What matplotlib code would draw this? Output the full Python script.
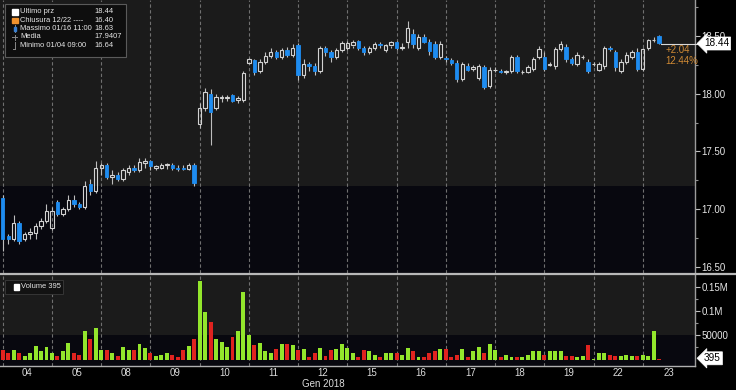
import matplotlib
matplotlib.use('Agg')
import matplotlib.pyplot as plt
from matplotlib.patches import Rectangle
from matplotlib.lines import Line2D
from matplotlib.ticker import FixedLocator, FuncFormatter
from matplotlib import font_manager

plt.rcParams['font.family'] = ['Liberation Sans', 'DejaVu Sans']
_names = {f.name for f in font_manager.fontManager.ttflist}
NARROW = 'Liberation Sans Narrow' in _names
LEG_FAMILY = ['Liberation Sans Narrow', 'Liberation Sans'] if NARROW else ['Liberation Sans', 'DejaVu Sans']
LEG_SIZE = 6.3 if NARROW else 5.4

# ---------------- data ----------------
day_labels = ['04', '05', '08', '09', '10', '11', '12', '15', '16', '17', '18', '19', '22', '23']
bars_per_day = 9
month_label = 'Gen 2018'

opens = [17.10, 16.77, 16.74, 16.88, 16.74, 16.78, 16.79, 16.85, 16.90,
         16.84, 17.06, 16.96, 17.00, 17.08, 17.04, 17.02, 17.22, 17.16,
         17.36, 17.38, 17.28, 17.30, 17.26, 17.32, 17.36, 17.34, 17.40,
         17.42, 17.36, 17.36, 17.38, 17.38, 17.36, 17.36, 17.35, 17.38,
         17.74, 17.88, 18.00, 17.88, 17.96, 17.96, 17.99, 17.95, 17.95,
         18.27, 18.29, 18.20, 18.28, 18.33, 18.36, 18.32, 18.38, 18.34,
         18.42, 18.16, 18.26, 18.24, 18.20, 18.40, 18.36, 18.32, 18.38,
         18.40, 18.42, 18.46, 18.40, 18.36, 18.40, 18.43, 18.38, 18.42,
         18.45, 18.40, 18.45, 18.52, 18.40, 18.49, 18.45, 18.43, 18.32,
         18.31, 18.29, 18.27, 18.13, 18.24, 18.22, 18.14, 18.23, 18.07,
         18.21, 18.20, 18.19, 18.20, 18.32, 18.19, 18.19, 18.22, 18.32,
         18.32, 18.25, 18.24, 18.39, 18.41, 18.30, 18.26, 18.32, 18.28,
         18.26, 18.21, 18.24, 18.40, 18.36, 18.20, 18.28, 18.32, 18.36,
         18.22, 18.40, 18.47, 18.50]
highs = [17.12, 16.78, 16.95, 16.90, 16.80, 16.84, 16.88, 16.92, 17.04,
         17.02, 17.08, 17.02, 17.12, 17.12, 17.06, 17.24, 17.26, 17.42,
         17.40, 17.40, 17.34, 17.32, 17.36, 17.38, 17.38, 17.44, 17.44,
         17.43, 17.38, 17.40, 17.40, 17.40, 17.38, 17.38, 17.40, 17.40,
         17.92, 18.05, 18.04, 18.00, 17.99, 17.99, 18.00, 17.98, 18.20,
         18.31, 18.30, 18.30, 18.36, 18.40, 18.38, 18.40, 18.41, 18.43,
         18.44, 18.30, 18.28, 18.27, 18.42, 18.42, 18.38, 18.40, 18.46,
         18.46, 18.47, 18.47, 18.42, 18.42, 18.45, 18.45, 18.43, 18.46,
         18.46, 18.44, 18.63, 18.56, 18.52, 18.52, 18.48, 18.46, 18.46,
         18.33, 18.31, 18.29, 18.28, 18.27, 18.25, 18.26, 18.25, 18.23,
         18.23, 18.22, 18.21, 18.34, 18.34, 18.21, 18.25, 18.32, 18.42,
         18.36, 18.28, 18.41, 18.46, 18.43, 18.32, 18.36, 18.34, 18.30,
         18.28, 18.28, 18.42, 18.42, 18.38, 18.30, 18.36, 18.38, 18.40,
         18.40, 18.48, 18.49, 18.51]
lows = [16.64, 16.70, 16.72, 16.70, 16.72, 16.74, 16.74, 16.83, 16.88,
        16.82, 16.94, 16.94, 16.98, 17.02, 17.00, 17.00, 17.12, 17.14,
        17.30, 17.26, 17.22, 17.24, 17.24, 17.30, 17.32, 17.32, 17.36,
        17.34, 17.34, 17.35, 17.35, 17.34, 17.33, 17.34, 17.34, 17.20,
        17.70, 17.85, 17.56, 17.86, 17.93, 17.94, 17.93, 17.92, 17.93,
        18.26, 18.16, 18.18, 18.26, 18.31, 18.30, 18.30, 18.32, 18.32,
        18.12, 18.14, 18.20, 18.16, 18.18, 18.33, 18.28, 18.30, 18.36,
        18.38, 18.40, 18.38, 18.34, 18.35, 18.38, 18.40, 18.36, 18.40,
        18.38, 18.38, 18.40, 18.40, 18.38, 18.44, 18.34, 18.30, 18.30,
        18.28, 18.25, 18.10, 18.11, 18.20, 18.20, 18.12, 18.04, 18.05,
        18.19, 18.18, 18.17, 18.18, 18.18, 18.17, 18.18, 18.20, 18.30,
        18.20, 18.24, 18.22, 18.37, 18.28, 18.25, 18.24, 18.30, 18.18,
        18.24, 18.20, 18.22, 18.37, 18.20, 18.18, 18.26, 18.30, 18.20,
        18.20, 18.38, 18.45, 18.43]
closes = [16.74, 16.74, 16.88, 16.72, 16.78, 16.80, 16.85, 16.90, 16.98,
          16.98, 16.96, 17.00, 17.08, 17.04, 17.02, 17.20, 17.16, 17.36,
          17.38, 17.28, 17.30, 17.26, 17.34, 17.36, 17.34, 17.41, 17.42,
          17.37, 17.37, 17.38, 17.39, 17.36, 17.35, 17.35, 17.38, 17.23,
          17.88, 18.02, 17.84, 17.97, 17.97, 17.97, 17.94, 17.96, 18.18,
          18.30, 18.19, 18.28, 18.33, 18.36, 18.32, 18.38, 18.34, 18.40,
          18.16, 18.26, 18.24, 18.20, 18.40, 18.36, 18.32, 18.38, 18.44,
          18.44, 18.45, 18.40, 18.36, 18.40, 18.43, 18.42, 18.42, 18.45,
          18.40, 18.41, 18.57, 18.43, 18.49, 18.45, 18.37, 18.32, 18.43,
          18.30, 18.27, 18.13, 18.26, 18.21, 18.23, 18.24, 18.06, 18.21,
          18.21, 18.19, 18.20, 18.32, 18.20, 18.19, 18.23, 18.30, 18.39,
          18.22, 18.26, 18.39, 18.43, 18.30, 18.27, 18.34, 18.32, 18.20,
          18.26, 18.26, 18.40, 18.39, 18.23, 18.28, 18.34, 18.36, 18.22,
          18.39, 18.47, 18.47, 18.44]
volumes = [19000, 14000, 19000, 14000, 8000, 13000, 28000, 17000, 26000,
           14000, 8000, 17000, 35000, 13000, 10000, 58000, 42000, 66000,
           19000, 19000, 13000, 8000, 26000, 19000, 19000, 33000, 24000,
           13000, 8000, 10000, 13000, 10000, 6000, 19000, 28000, 42000,
           163000, 99000, 77000, 42000, 37000, 26000, 46000, 58000, 140000,
           51000, 31000, 35000, 17000, 14000, 21000, 33000, 33000, 29000,
           19000, 21000, 5000, 13000, 23000, 8000, 19000, 21000, 33000,
           23000, 13000, 5000, 19000, 17000, 10000, 5000, 13000, 13000,
           13000, 10000, 23000, 17000, 6000, 5000, 13000, 17000, 21000,
           21000, 5000, 10000, 21000, 5000, 17000, 26000, 13000, 33000,
           19000, 6000, 10000, 5000, 5000, 5000, 10000, 17000, 17000,
           10000, 17000, 17000, 17000, 8000, 8000, 5000, 8000, 29000,
           2000, 13000, 13000, 10000, 8000, 8000, 10000, 8000, 8000,
           10000, 8000, 58000, 395]

last_price = 18.44
last_volume = 395
legend_rows = [('Ultimo prz', '18.44'), ('Chiusura 12/22 ----', '16.40'),
               ('Massimo 01/16 11:00', '18.63'), ('Media', '17.9407'),
               ('Minimo 01/04 09:00', '16.64')]
change_abs = '+2.04'
change_pct = '12.44%'

# ---------------- figure ----------------
W, H = 736, 390
fig = plt.figure(figsize=(W / 100, H / 100), dpi=100, facecolor='black')


def fx(px):
    return px / W


def fy(py):
    return 1 - py / H


P_TOP, P_BOT = 0, 273
V_TOP, V_BOT = 275, 366
RIGHT = 695
XMAX = 126.55

ax = fig.add_axes([0, fy(P_BOT), fx(RIGHT), (P_BOT - P_TOP) / H])
axv = fig.add_axes([0, fy(V_BOT), fx(RIGHT), (V_BOT - V_TOP) / H])

n = len(closes)
n_days = len(day_labels)

GRAY_BG = '#1b1b1b'
DARK_BG = '#08080f'
for a in (ax, axv):
    a.set_facecolor(DARK_BG)
    a.set_xlim(-0.5, XMAX)
    for s in ('top', 'left', 'bottom', 'right'):
        a.spines[s].set_visible(False)
    a.spines['right'].set_visible(True)
    a.spines['right'].set_color('#9c9c9c')
    a.spines['right'].set_linewidth(1.0)
    for k in range(n_days):
        a.axvline(k * bars_per_day, color='#707070', lw=0.8,
                  ls=(0, (3, 2.2)), zorder=1)

ax.set_ylim(16.445, 18.815)
ax.axhspan(17.20, 19.0, color=GRAY_BG, zorder=0, lw=0)

axv.set_ylim(-13400, 174600)
axv.axhspan(50000, 200000, color=GRAY_BG, zorder=0, lw=0)

# candles
BLUE = '#1e8cf0'
HOLLOW = '#d2d2d2'
WICK = '#bdbdbd'
bw = 0.62
for i in range(n):
    o, h, l, c = opens[i], highs[i], lows[i], closes[i]
    top, bot = max(o, c), min(o, c)
    if c > o:
        ax.vlines(i, top, h, color=WICK, lw=0.8, zorder=3)
        ax.vlines(i, l, bot, color=WICK, lw=0.8, zorder=3)
        ax.add_patch(Rectangle((i - bw / 2, bot), bw, top - bot, fc='none',
                               ec=HOLLOW, lw=0.8, zorder=4))
    elif c < o:
        ax.vlines(i, l, h, color=WICK, lw=0.8, zorder=3)
        ax.add_patch(Rectangle((i - bw / 2, bot), bw, top - bot, fc=BLUE,
                               ec=BLUE, lw=0.6, zorder=4))
    else:
        ax.vlines(i, l, h, color=WICK, lw=0.8, zorder=3)
        ax.hlines(o, i - bw / 2, i + bw / 2, color=HOLLOW, lw=0.8, zorder=4)

# volume bars
GREEN = '#93e62c'
RED = '#e0231f'
vcols = [GREEN if closes[i] >= opens[i] else RED for i in range(n)]
axv.bar(range(n), volumes, width=0.72, color=vcols, zorder=3, lw=0)

# axes ticks
ax.xaxis.set_visible(False)
ax.yaxis.tick_right()
ax.yaxis.set_major_locator(FixedLocator([16.5, 17.0, 17.5, 18.0, 18.5]))
ax.yaxis.set_minor_locator(FixedLocator([16.75, 17.25, 17.75, 18.25, 18.75]))
ax.yaxis.set_major_formatter(FuncFormatter(lambda v, p: '%.2f' % v))
ax.tick_params(axis='y', which='major', length=3.5, width=0.8, color='#c0c0c0',
               labelcolor='#e6e6e6', labelsize=7, pad=1)
ax.tick_params(axis='y', which='minor', length=2.5, width=0.8, color='#909090')

axv.yaxis.tick_right()
axv.yaxis.set_major_locator(FixedLocator([50000, 100000, 150000]))
axv.yaxis.set_minor_locator(FixedLocator([25000, 75000, 125000]))
vlabels = {50000: '50000', 100000: '0.1M', 150000: '0.15M'}
axv.yaxis.set_major_formatter(FuncFormatter(lambda v, p: vlabels.get(int(round(v)), '')))
axv.tick_params(axis='y', which='major', length=3.5, width=0.8, color='#c0c0c0',
                labelcolor='#e6e6e6', labelsize=7, pad=1)
axv.tick_params(axis='y', which='minor', length=2.5, width=0.8, color='#909090')

axv.spines['bottom'].set_visible(True)
axv.spines['bottom'].set_color('#b0b0b0')
axv.spines['bottom'].set_linewidth(1.0)
day_pos = [k * bars_per_day + 4.5 for k in range(n_days)]
day_pos[-1] = ((n_days - 1) * bars_per_day + XMAX) / 2
axv.set_xticks(day_pos)
axv.set_xticklabels(day_labels)
axv.tick_params(axis='x', length=0, labelcolor='#dcdcdc', labelsize=7.0, pad=1.5)
fig.text(fx(323), fy(383.8), month_label, color='#dcdcdc', fontsize=7.0,
         ha='center', va='center')

# separator between panels
fig.add_artist(Line2D([0, 1], [fy(274), fy(274)], color='#b8b8b8', lw=1.6))

# last price line + box
y_last = fy(43.5)
fig.add_artist(Line2D([fx(661), fx(698)], [y_last, y_last], color='#d8d8d8', lw=0.8))
fig.text(fx(704), y_last, '%.2f' % last_price, color='black', fontsize=7.2,
         ha='left', va='center', zorder=20,
         bbox=dict(boxstyle='larrow,pad=0.15', fc='white', ec='white', lw=0.5))
fig.text(fx(666), fy(50), change_abs, color='#d08a34', fontsize=7, ha='left', va='center')
fig.text(fx(665), fy(60.5), change_pct, color='#d08a34', fontsize=7, ha='left', va='center')

# last volume box
fig.text(fx(704), fy(358.3), str(last_volume), color='black', fontsize=7.2,
         ha='left', va='center', zorder=20,
         bbox=dict(boxstyle='larrow,pad=0.15', fc='white', ec='white', lw=0.5))

# legend box (price)
fig.add_artist(Rectangle((fx(5), fy(57)), fx(126) - fx(5), (57 - 4) / H,
                         transform=fig.transFigure, fc='#0e0e0e', ec='#5a5a5a',
                         lw=0.8, zorder=10))
row_y = [11.5, 20, 28.5, 37, 45.5]
for (lab, val), yy in zip(legend_rows, row_y):
    fig.text(fx(20.5), fy(yy), lab, color='#e8e8e8', fontsize=LEG_SIZE,
             family=LEG_FAMILY, ha='left', va='center', zorder=12)
    fig.text(fx(94), fy(yy), val, color='#e8e8e8', fontsize=LEG_SIZE,
             family=LEG_FAMILY, ha='left', va='center', zorder=12)
# legend icons
fig.add_artist(Rectangle((fx(12), fy(14.5)), fx(5.5), 5.5 / H, transform=fig.transFigure,
                         fc='white', ec='white', zorder=12))
fig.add_artist(Rectangle((fx(12), fy(23)), fx(5.5), 5.5 / H, transform=fig.transFigure,
                         fc='#f0922e', ec='#f0922e', zorder=12))
fig.add_artist(Line2D([fx(14.5), fx(14.5)], [fy(25), fy(32)], color='#888', lw=0.7, zorder=12))
fig.add_artist(Rectangle((fx(13.5), fy(31)), fx(2), 4 / H, transform=fig.transFigure,
                         fc='#3a7fd0', ec='#3a7fd0', zorder=12))
fig.add_artist(Line2D([fx(12), fx(17)], [fy(37), fy(37)], color='#888', lw=0.7, zorder=12))
fig.add_artist(Line2D([fx(14.5), fx(14.5)], [fy(34.5), fy(39.5)], color='#888', lw=0.7, zorder=12))
fig.add_artist(Line2D([fx(14.5), fx(14.5)], [fy(42), fy(49)], color='#888', lw=0.7, zorder=12))
fig.add_artist(Line2D([fx(13), fx(14.5)], [fy(48.5), fy(48.5)], color='#888', lw=0.7, zorder=12))

# legend box (volume)
fig.add_artist(Rectangle((fx(5), fy(293.5)), fx(63) - fx(5), 13.5 / H,
                         transform=fig.transFigure, fc='#121212', ec='#3a3a3a',
                         lw=0.6, zorder=10))
fig.add_artist(Rectangle((fx(13.5), fy(289.5)), fx(5.5), 5.5 / H, transform=fig.transFigure,
                         fc='white', ec='white', zorder=12))
fig.text(fx(21), fy(286.8), 'Volume %d' % last_volume, color='#e8e8e8', fontsize=LEG_SIZE,
         family=LEG_FAMILY, ha='left', va='center', zorder=12)

fig.savefig('out.png', dpi=100, facecolor='black')
